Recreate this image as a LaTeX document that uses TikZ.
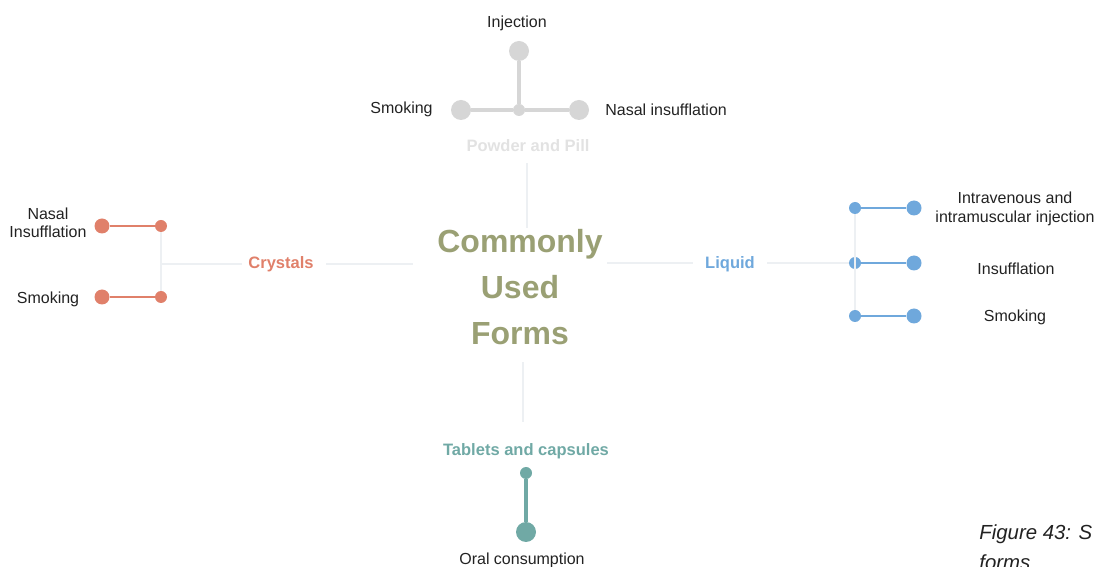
\documentclass[tikz,border=0pt]{standalone}
\usepackage{fontspec}
\setmainfont{Liberation Sans}
\usetikzlibrary{positioning}

\definecolor{dotgray}{HTML}{D6D6D6}
\definecolor{pilltext}{HTML}{E2E2E2}
\definecolor{crysred}{HTML}{E0806A}
\definecolor{liqblue}{HTML}{6FA8DC}
\definecolor{tabteal}{HTML}{70A9A5}
\definecolor{titleolive}{HTML}{9AA074}
\definecolor{feedgray}{HTML}{EDF0F3}
\definecolor{labelink}{HTML}{222222}

\begin{document}
\begin{tikzpicture}[font=\fontsize{9.1}{10.4}\selectfont, text=labelink,
    feed/.style={draw=feedgray, line width=1.1pt},
    bigdot/.style={circle, fill=#1, inner sep=0pt, minimum size=0.4cm},
    middot/.style={circle, fill=#1, inner sep=0pt, minimum size=0.3cm},
    smalldot/.style={circle, fill=#1, inner sep=0pt, minimum size=0.24cm},
    catlabel/.style={font=\fontsize{9.4}{11}\selectfont\bfseries, text=#1},
    formlabel/.style={align=center}]

\useasboundingbox (0,0) rectangle (21.9,11.34);

% ═══════════════════════════════════════════════════════
% CENTRO
% ═══════════════════════════════════════════════════════

\node[align=center, text=titleolive,
      font=\fontsize{18.2}{26.2}\selectfont\bfseries]
    (forms) at (10.4,5.6) {Commonly\\Used\\Forms};

% ═══════════════════════════════════════════════════════
% POWDER AND PILL (arriba)
% ═══════════════════════════════════════════════════════

\node[catlabel=pilltext] (pill) at (10.56,8.43) {Powder and Pill};

\node[bigdot=dotgray]   (pillinj) at (10.38,10.32) {};
\node[smalldot=dotgray] (pillhub) at (10.38,9.14) {};
\node[bigdot=dotgray]   (pillsmk) at (9.22,9.14) {};
\node[bigdot=dotgray]   (pillnas) at (11.58,9.14) {};

\node (pillinjtxt) at (10.34,10.88) {Injection};
\node[anchor=east, inner sep=0pt] (pillsmktxt) at (8.66,9.15) {Smoking};
\node[anchor=west, inner sep=0pt] (pillnastxt) at (12.1,9.15) {Nasal insufflation};

\draw[dotgray, line width=2.3pt] (pillinj) -- (pillhub);
\draw[dotgray, line width=2.3pt] (pillsmk) -- (pillhub) -- (pillnas);

\coordinate (pilltop) at (10.54,8.08);
\coordinate (pillbot) at (10.54,6.78);
\draw[feed] (pilltop) -- (pillbot);

% ═══════════════════════════════════════════════════════
% CRYSTALS (izquierda)
% ═══════════════════════════════════════════════════════

\node[catlabel=crysred] (crys) at (5.62,6.06) {Crystals};

\node[smalldot=crysred] (crysnashub) at (3.22,6.82) {};
\node[smalldot=crysred] (cryssmkhub) at (3.22,5.40) {};
\node[middot=crysred]   (crysnas) at (2.04,6.82) {};
\node[middot=crysred]   (cryssmk) at (2.04,5.40) {};

\node[formlabel] (crysnastxt) at (0.96,6.89) {Nasal\\Insufflation};
\node (cryssmktxt) at (0.96,5.35) {Smoking};

\coordinate (crysjoin) at (3.24,6.06);
\coordinate (crysfeedA) at (8.26,6.06);
\coordinate (crysfeedB) at (6.52,6.06);
\draw[feed] (crysfeedA) -- (crysfeedB);
\draw[feed] (crys.west) -- (crysjoin);
\draw[feed] (crysnashub) -- (cryssmkhub);

\draw[crysred, line width=1.7pt] (crysnas) -- (crysnashub);
\draw[crysred, line width=1.7pt] (cryssmk) -- (cryssmkhub);

% ═══════════════════════════════════════════════════════
% LIQUID (derecha)
% ═══════════════════════════════════════════════════════

\node[catlabel=liqblue] (liq) at (14.6,6.06) {Liquid};

\node[smalldot=liqblue] (liqivhub)  at (17.1,7.18) {};
\node[smalldot=liqblue] (liqinshub) at (17.1,6.08) {};
\node[smalldot=liqblue] (liqsmkhub) at (17.1,5.02) {};
\node[middot=liqblue]   (liqiv)  at (18.28,7.18) {};
\node[middot=liqblue]   (liqins) at (18.28,6.08) {};
\node[middot=liqblue]   (liqsmk) at (18.28,5.02) {};

\node[formlabel] (liqivtxt) at (20.3,7.16) {Intravenous and\\intramuscular injection};
\node (liqinstxt) at (20.32,5.96) {Insufflation};
\node (liqsmktxt) at (20.3,4.99) {Smoking};

\coordinate (liqfeedA) at (12.14,6.08);
\coordinate (liqfeedB) at (13.86,6.08);
\coordinate (liqfeedC) at (15.34,6.08);
\draw[feed] (liqfeedA) -- (liqfeedB);
\draw[feed] (liqfeedC) -- (liqinshub);
\draw[feed] (liqivhub) -- (liqsmkhub);

\draw[liqblue, line width=1.7pt] (liqivhub) -- (liqiv);
\draw[liqblue, line width=1.7pt] (liqinshub) -- (liqins);
\draw[liqblue, line width=1.7pt] (liqsmkhub) -- (liqsmk);

% ═══════════════════════════════════════════════════════
% TABLETS AND CAPSULES (abajo)
% ═══════════════════════════════════════════════════════

\node[catlabel=tabteal] (tab) at (10.52,2.31) {Tablets and capsules};

\node[smalldot=tabteal] (tabhub)  at (10.52,1.88) {};
\node[bigdot=tabteal]   (taboral) at (10.52,0.7) {};
\node (taboraltxt) at (10.44,0.13) {Oral consumption};

\draw[tabteal, line width=2.3pt] (tabhub) -- (taboral);

\coordinate (tabtop) at (10.46,4.1);
\coordinate (tabbot) at (10.46,2.9);
\draw[feed] (tabtop) -- (tabbot);

% ═══════════════════════════════════════════════════════
% PIE DE FIGURA (cortado)
% ═══════════════════════════════════════════════════════

\node[anchor=west, inner sep=0pt, font=\fontsize{11.6}{13}\selectfont\itshape]
    (capA) at (19.58,0.66) {Figure 43: S};
\node[anchor=west, inner sep=0pt, font=\fontsize{11.6}{13}\selectfont\itshape]
    (capB) at (19.58,0.1) {forms};

\end{tikzpicture}
\end{document}
